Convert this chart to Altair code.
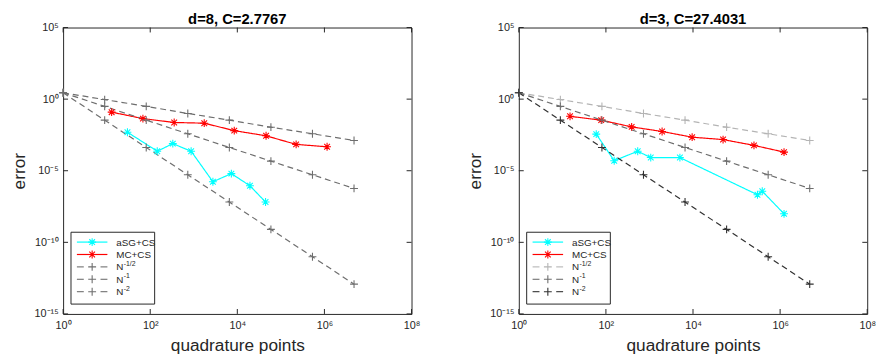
import altair as alt
import pandas as pd

# ---------------- data ----------------
SERIES = ["aSG+CS", "MC+CS", "N^-1/2", "N^-1", "N^-2"]
LEGEND_BASE = ["aSG+CS", "MC+CS", "N", "N", "N"]
LEGEND_EXP = ["", "", "-1/2", "-1", "-2"]

REF_N = [1, 9, 81, 729, 6561, 59049, 531441, 4782969]
REF_HALF = [2.78, 0.93, 0.31, 0.10, 0.034, 0.011, 0.0038, 0.0013]
REF_ONE = [2.78, 0.31, 0.034, 0.0038, 4.2e-4, 4.7e-5, 5.2e-6, 5.8e-7]
REF_TWO = [2.78, 0.034, 4.2e-4, 5.2e-6, 6.5e-8, 8.0e-10, 9.8e-12, 1.2e-13]

# left panel  d=8
L_SG_N = [30, 145, 330, 870, 2750, 7300, 19500, 44500]
L_SG_E = [4.9e-3, 2.3e-4, 7.8e-4, 2.3e-4, 1.7e-6, 6.3e-6, 8.9e-7, 6.5e-8]
L_MC_N = [13, 68, 355, 1740, 8500, 45700, 224000, 1150000]
L_MC_E = [0.123, 0.0437, 0.0234, 0.0209, 6.3e-3, 2.75e-3, 6.9e-4, 4.7e-4]

# right panel d=3
R_SG_N = [60, 155, 537, 1070, 5000, 302000, 389000, 1230000]
R_SG_E = [3.6e-3, 5.0e-5, 2.3e-4, 8.3e-5, 8.3e-5, 2.1e-7, 3.7e-7, 9.8e-9]
R_MC_N = [15, 78, 390, 1950, 9550, 49000, 251000, 1230000]
R_MC_E = [0.063, 0.034, 0.0115, 5.5e-3, 2.2e-3, 1.5e-3, 5.9e-4, 2.0e-4]

X_TICKS = [1, 1e2, 1e4, 1e6, 1e8]
Y_TICKS = [1e-15, 1e-10, 1e-5, 1, 1e5]

TITLES = ["d=8, C=2.7767", "d=3, C=27.4031"]
LEFT_COLORS = ["#00ffff", "#ff0000", "#6e6e6e", "#6e6e6e", "#6e6e6e"]
RIGHT_COLORS = ["#00ffff", "#ff0000", "#b4b4b4", "#6e6e6e", "#303030"]

# ---------------- styling ----------------
W, H = 354, 291
FONT = "Liberation Sans"
INK = "#262626"
AST = "M0,-1V1M-1,0H1M-0.72,-0.72L0.72,0.72M-0.72,0.72L0.72,-0.72"
PLUS = "M0,-1V1M-1,0H1"

SUP = {-15: "⁻¹⁵", -10: "⁻¹⁰", -5: "⁻⁵", 0: "⁰", 2: "²", 4: "⁴", 5: "⁵", 6: "⁶", 8: "⁸"}
sup_obj = "{" + ",".join(f"'{k}':'{v}'" for k, v in SUP.items()) + "}"
LABEL_EXPR = "'10' + " + sup_obj + "['' + round(log(datum.value)/LN10)]"

# legend layout (pixels inside the plot area)
LEG_X0, LEG_X1, LEG_Y0, LEG_Y1 = 8, 93, 208, 281
LEG_ROW0, LEG_ROW_STEP = 218, 12.6
LEG_L0, LEG_L1, LEG_TXT = 14, 45, 54


def frame(sg_n, sg_e, mc_n, mc_e):
    rows = []
    for s, ns, es in [(SERIES[0], sg_n, sg_e), (SERIES[1], mc_n, mc_e),
                      (SERIES[2], REF_N, REF_HALF), (SERIES[3], REF_N, REF_ONE),
                      (SERIES[4], REF_N, REF_TWO)]:
        for i, (n, e) in enumerate(zip(ns, es)):
            rows.append({"series": s, "N": n, "err": e, "order": i,
                         "kind": "data" if s in SERIES[:2] else "ref"})
    return pd.DataFrame(rows)


def legend_layers(colors):
    layers = [alt.Chart().mark_rect(fill="white", stroke=INK, strokeWidth=1).encode(
        x=alt.value(LEG_X0), x2=alt.value(LEG_X1), y=alt.value(LEG_Y0), y2=alt.value(LEG_Y1))]
    mid = (LEG_L0 + LEG_L1) / 2
    for i, s in enumerate(SERIES):
        yy = LEG_ROW0 + i * LEG_ROW_STEP
        c = colors[i]
        if i < 2:
            layers.append(alt.Chart().mark_rule(color=c, strokeWidth=1.2).encode(
                x=alt.value(LEG_L0), x2=alt.value(LEG_L1), y=alt.value(yy)))
            shape = AST
        else:
            layers.append(alt.Chart().mark_rule(color=c, strokeWidth=1.1).encode(
                x=alt.value(LEG_L0), x2=alt.value(LEG_L0 + 7), y=alt.value(yy)))
            layers.append(alt.Chart().mark_rule(color=c, strokeWidth=1.1).encode(
                x=alt.value(LEG_L1 - 7), x2=alt.value(LEG_L1), y=alt.value(yy)))
            shape = PLUS
        layers.append(alt.Chart().mark_point(shape=shape, filled=False, size=64,
                                             strokeWidth=1.1, color=c, opacity=1).encode(
            x=alt.value(mid), y=alt.value(yy)))
        layers.append(alt.Chart().mark_text(font=FONT, fontSize=10, color=INK, align="left",
                                            baseline="middle").encode(
            x=alt.value(LEG_TXT), y=alt.value(yy + 0.5), text=alt.value(LEGEND_BASE[i])))
        if LEGEND_EXP[i]:
            layers.append(alt.Chart().mark_text(font=FONT, fontSize=7, color=INK, align="left",
                                                baseline="middle").encode(
                x=alt.value(LEG_TXT + 7.6), y=alt.value(yy - 3), text=alt.value(LEGEND_EXP[i])))
    return layers


def panel(title, df, colors):
    xs = alt.Scale(type="log", domain=[1, 1e8], nice=False)
    ys = alt.Scale(type="log", domain=[1e-15, 1e5], nice=False)
    cscale = alt.Scale(domain=SERIES, range=colors)
    stroke = alt.Stroke("series:N", scale=cscale, legend=None)
    x = alt.X("N:Q", scale=xs, title="quadrature points",
              axis=alt.Axis(values=X_TICKS, labelExpr=LABEL_EXPR, ticks=False, domain=False,
                            grid=False, labelFont=FONT, labelFontSize=11, labelColor=INK,
                            labelPadding=6, titleFont=FONT, titleFontSize=17.5,
                            titleFontWeight="normal", titleColor=INK, titlePadding=6,
                            labelFlush=False))
    y = alt.Y("err:Q", scale=ys, title="error",
              axis=alt.Axis(values=Y_TICKS, labelExpr=LABEL_EXPR, ticks=False, domain=False,
                            grid=False, labelFont=FONT, labelFontSize=11, labelColor=INK,
                            labelPadding=5, titleFont=FONT, titleFontSize=17.5,
                            titleFontWeight="normal", titleColor=INK, titlePadding=5.5,
                            labelFlush=False))
    dash = alt.StrokeDash("series:N", scale=alt.Scale(domain=SERIES,
                          range=[[1, 0], [1, 0], [6, 4], [6, 4], [6, 4]]), legend=None)

    base = alt.Chart(df)
    lines = base.mark_line(strokeWidth=1.2).encode(x=x, y=y, stroke=stroke, strokeDash=dash,
                                                     order="order:Q", detail="series:N")
    pts_data = base.transform_filter(alt.datum.kind == "data").mark_point(
        shape=AST, filled=False, size=64, strokeWidth=1.1, opacity=1).encode(
        x=x, y=y, stroke=stroke)
    pts_ref = base.transform_filter(alt.datum.kind == "ref").mark_point(
        shape=PLUS, filled=False, size=64, strokeWidth=1.1, opacity=1).encode(
        x=x, y=y, stroke=stroke)

    xt = pd.DataFrame({"t": X_TICKS})
    yt = pd.DataFrame({"t": Y_TICKS})
    tick_style = dict(color=INK, strokeWidth=1)
    xb = alt.Chart(xt).mark_rule(**tick_style).encode(
        x=alt.X("t:Q", scale=xs), y=alt.value(H), y2=alt.value(H - 5))
    xtop = alt.Chart(xt).mark_rule(**tick_style).encode(
        x=alt.X("t:Q", scale=xs), y=alt.value(0), y2=alt.value(5))
    yl = alt.Chart(yt).mark_rule(**tick_style).encode(
        y=alt.Y("t:Q", scale=ys), x=alt.value(0), x2=alt.value(5))
    yr = alt.Chart(yt).mark_rule(**tick_style).encode(
        y=alt.Y("t:Q", scale=ys), x=alt.value(W), x2=alt.value(W - 5))

    return alt.layer(xb, xtop, yl, yr, lines, pts_data, pts_ref,
                     *legend_layers(colors)).properties(
        width=W, height=H,
        title=alt.TitleParams(title, font=FONT, fontSize=15, fontWeight="bold",
                              color="black", offset=-5))


left = panel(TITLES[0], frame(L_SG_N, L_SG_E, L_MC_N, L_MC_E), LEFT_COLORS)
right = panel(TITLES[1], frame(R_SG_N, R_SG_E, R_MC_N, R_MC_E), RIGHT_COLORS)

chart = alt.hconcat(left, right, spacing=109, bounds="flush").resolve_scale(
    stroke="independent", strokeDash="independent", x="independent", y="independent"
).properties(
    padding={"left": 2, "top": 0, "right": 5, "bottom": 5}).configure_view(
    stroke=INK, strokeWidth=1)

chart.save("out.html", embed_options={"renderer": "svg", "actions": False})
